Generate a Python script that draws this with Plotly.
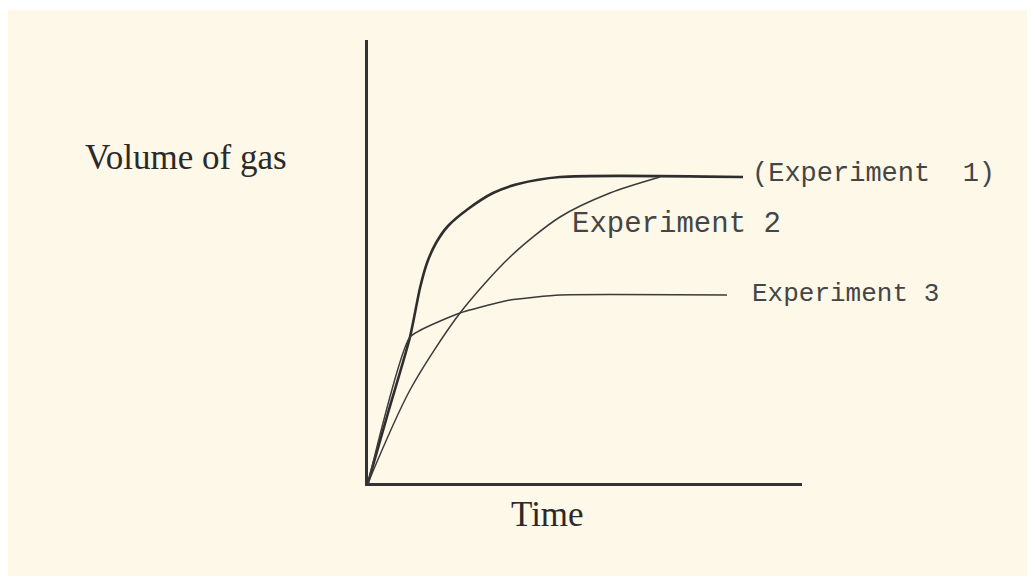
import plotly.graph_objects as go

# Hand-read values (arbitrary units: time, volume of gas)
exp1_time = [0, 20, 42, 52, 59, 68, 80, 100, 125, 150, 192, 375]
exp1_vol = [0, 70, 146, 195, 220, 240, 257, 274, 290, 299, 306, 306]

exp2_time = [0, 42, 92, 142, 192, 242, 292]
exp2_vol = [0, 93, 170, 226, 266, 290, 306]

exp3_time = [0, 42, 92, 142, 192, 359]
exp3_vol = [0, 146, 170, 183, 188, 188]

labels = ["(Experiment\u00a0\u00a01)", "Experiment 2", "Experiment 3"]
x_title = "Time"
y_title = "Volume of gas"

O = 8  # page body margin in the browser
W, H = 1035 - O, 576 - O
L, T = 368 - O, 40 - O
pw, ph = 434, 443
R, B = W - L - pw, H - T - ph
XMAX, YMAX = 434, 443

def px(x):  # screenshot pixel -> paper x
    return (x - O - L) / pw

def py(y):  # screenshot pixel -> paper y
    return (T + ph - (y - O)) / ph

line_col = "#2e2e2e"
fig = go.Figure()
fig.add_trace(go.Scatter(x=exp1_time, y=exp1_vol, mode="lines",
                         line=dict(color=line_col, width=2.6, shape="spline", smoothing=0.7),
                         name=labels[0], hoverinfo="skip"))
fig.add_trace(go.Scatter(x=exp2_time, y=exp2_vol, mode="lines",
                         line=dict(color="#3a3a3a", width=1.5, shape="spline", smoothing=0.8),
                         name=labels[1], hoverinfo="skip"))
fig.add_trace(go.Scatter(x=exp3_time, y=exp3_vol, mode="lines",
                         line=dict(color="#3a3a3a", width=1.5, shape="spline", smoothing=0.4),
                         name=labels[2], hoverinfo="skip"))

hand = "Liberation Mono"
serif = "Liberation Serif"
ann = [
    dict(text=labels[0], x=px(750), y=py(174), size=27),
    dict(text=labels[1], x=px(570), y=py(224), size=29),
    dict(text=labels[2], x=px(750), y=py(294), size=26),
]
annotations = []
for a in ann:
    annotations.append(dict(text=a["text"], xref="paper", yref="paper", x=a["x"], y=a["y"],
                            xanchor="left", yanchor="middle", showarrow=False,
                            font=dict(family=hand, size=a["size"], color="#454545")))
annotations.append(dict(text=y_title, xref="paper", yref="paper", x=px(83), y=py(157),
                        xanchor="left", yanchor="middle", showarrow=False,
                        font=dict(family=serif, size=35, color="#2a2a2a")))
annotations.append(dict(text=x_title, xref="paper", yref="paper", x=px(547), y=py(514),
                        xanchor="center", yanchor="middle", showarrow=False,
                        font=dict(family=serif, size=35, color="#2a2a2a")))

fig.update_layout(
    width=W, height=H,
    margin=dict(l=L, r=R, t=T, b=B, pad=0),
    paper_bgcolor="#fdf8e7",
    plot_bgcolor="rgba(0,0,0,0)",
    showlegend=False,
    annotations=annotations,
    shapes=[dict(type="rect", xref="paper", yref="paper", layer="below",
                 x0=px(0), x1=px(1040), y0=py(10), y1=py(0),
                 fillcolor="white", line=dict(width=0))],
    xaxis=dict(range=[0, XMAX], showline=True, linecolor="#333333", linewidth=2.5,
               showgrid=False, zeroline=False, showticklabels=False, ticks=""),
    yaxis=dict(range=[0, YMAX], showline=True, linecolor="#333333", linewidth=2.5,
               showgrid=False, zeroline=False, showticklabels=False, ticks=""),
)
fig.write_html("out.html")
